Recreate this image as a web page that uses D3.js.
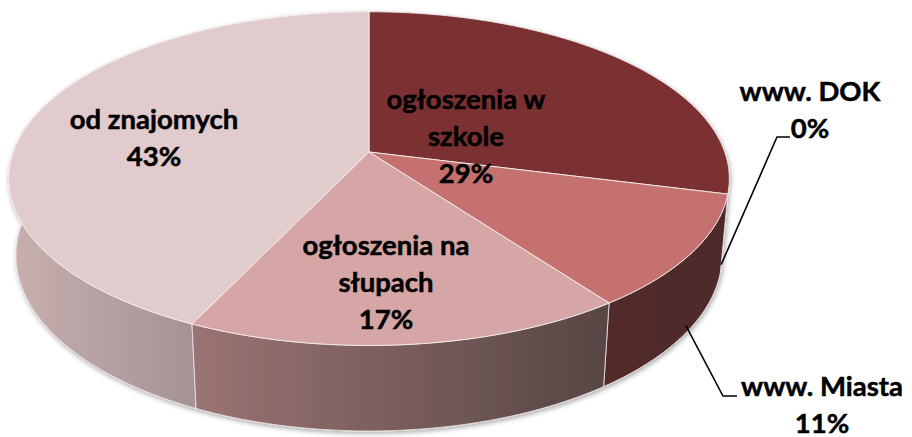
<!DOCTYPE html>
<html>
<head>
<meta charset="utf-8">
<script src="https://cdn.jsdelivr.net/npm/d3@7"></script>
<style>
  body { margin: 0; background: #fff; }
  svg { display: block; }
  text { font-family: Lato, "Open Sans", sans-serif; font-weight: 700; }
</style>
</head>
<body>
<svg id="chart" width="912" height="437"></svg>
<script>
// data
var categories = ["ogłoszenia w szkole", "www. DOK", "www. Miasta", "ogłoszenia na słupach", "od znajomych"];
var values = [29, 0, 11, 17, 43];
var labelLines = [["ogłoszenia w", "szkole"], ["www. DOK"], ["www. Miasta"], ["ogłoszenia na", "słupach"], ["od znajomych"]];

// styles
var topColors  = ["#7b3131", "#c4716f", "#c4716f", "#d6a5a5", "#e2cbcc"];
var wallLeft   = ["#4f2a29", "#522c2b", "#522c2b", "#9a7473", "#c8aeaf"];
var wallRight  = ["#4a2726", "#4e2a29", "#4e2a29", "#574544", "#a59394"];
// label block: centre x, middle baseline y
var labelAt = [[466, 146], [810, 119], [822, 414], [386, 292], [154, 147]];
// leader elbows for outside labels [corner, end]
var leaders = { 1: [[777, 137], [790, 137]], 2: [[723, 396], [737, 396]] };

var svg = d3.select("#chart");

// 3d projection of the disc
var cx = 369, cy = 152;
var tilt = 27.2 * Math.PI / 180;
var sn = Math.sin(tilt), cs = Math.cos(tilt);
var dist = 5.58, focal = 1985, thick = 0.245;

function proj(theta, r, h) {
  var X = r * Math.sin(theta), Z = r * Math.cos(theta);
  var ycam = Z * sn - h * cs;
  var depth = dist + Z * cs + h * sn;
  return [cx + focal * X / depth, cy - focal * ycam / depth];
}

var pie = d3.pie().sort(null).value(function(d) { return d; });
var arcs = pie(values);
var line = d3.line();

function arcPts(a0, a1, h) {
  var n = Math.max(2, Math.ceil(Math.abs(a1 - a0) / 0.01));
  return d3.range(n + 1).map(function(i) { return proj(a0 + (a1 - a0) * i / n, 1, h); });
}

var defs = svg.append("defs");
var shadow = defs.append("filter").attr("id", "shadow")
  .attr("x", "-10%").attr("y", "-10%").attr("width", "120%").attr("height", "130%");
shadow.append("feDropShadow").attr("dx", 1).attr("dy", 2).attr("stdDeviation", 2.5)
  .attr("flood-color", "#000").attr("flood-opacity", 0.35);

// walls, back to front
var walls = arcs.filter(function(d) { return d.endAngle > d.startAngle; })
  .sort(function(a, b) {
    return Math.cos((a.startAngle + a.endAngle) / 2) < Math.cos((b.startAngle + b.endAngle) / 2) ? 1 : -1;
  });

var wallG = svg.append("g").attr("filter", "url(#shadow)");
walls.forEach(function(d) {
  var a0 = Math.max(d.startAngle, Math.PI / 2), a1 = Math.min(d.endAngle, 3 * Math.PI / 2);
  var xs = a1 > a0 ? [proj(a0, 1, 0)[0], proj(a1, 1, 0)[0]] : [0, 1];
  var gid = "wall" + d.index;
  var g = defs.append("linearGradient").attr("id", gid).attr("gradientUnits", "userSpaceOnUse")
    .attr("x1", Math.min(xs[0], xs[1])).attr("x2", Math.max(xs[0], xs[1])).attr("y1", 0).attr("y2", 0);
  g.append("stop").attr("offset", 0).attr("stop-color", wallLeft[d.index]);
  g.append("stop").attr("offset", 1).attr("stop-color", wallRight[d.index]);
  var pts = arcPts(d.startAngle, d.endAngle, 0).concat(arcPts(d.endAngle, d.startAngle, thick));
  wallG.append("path")
    .attr("d", line(pts) + "Z")
    .attr("fill", "url(#" + gid + ")")
    .attr("stroke", "#f2e8e8").attr("stroke-width", 0.8).attr("stroke-linejoin", "round");
});

// top faces
var topG = svg.append("g");
arcs.forEach(function(d) {
  if (d.endAngle <= d.startAngle) return;
  var pts = [proj(0, 0, 0)].concat(arcPts(d.startAngle, d.endAngle, 0));
  topG.append("path")
    .attr("d", line(pts) + "Z")
    .attr("fill", topColors[d.index])
    .attr("stroke", "#f5eeee").attr("stroke-width", 0.9).attr("stroke-linejoin", "round");
});

// leader lines for outside labels
var total = d3.sum(values);
Object.keys(leaders).forEach(function(k) {
  var d = arcs[+k];
  var mid = (d.startAngle + d.endAngle) / 2;
  var start = proj(mid, 1, thick * 0.9);
  svg.append("path")
    .attr("d", line([start].concat(leaders[k])))
    .attr("fill", "none").attr("stroke", "#000").attr("stroke-width", 1.6);
});

// labels
var pitch = 37;
arcs.forEach(function(d, i) {
  var lines = labelLines[i].concat([Math.round(values[i] / total * 100) + "%"]);
  var t = svg.append("text")
    .attr("text-anchor", "middle")
    .attr("font-size", 27.5)
    .attr("fill", "#000")
    .attr("stroke", "#000").attr("stroke-width", 0.5);
  lines.forEach(function(s, j) {
    t.append("tspan")
      .attr("x", labelAt[i][0])
      .attr("y", labelAt[i][1] + (j - (lines.length - 1) / 2) * pitch)
      .text(s);
  });
});
</script>
</body>
</html>
